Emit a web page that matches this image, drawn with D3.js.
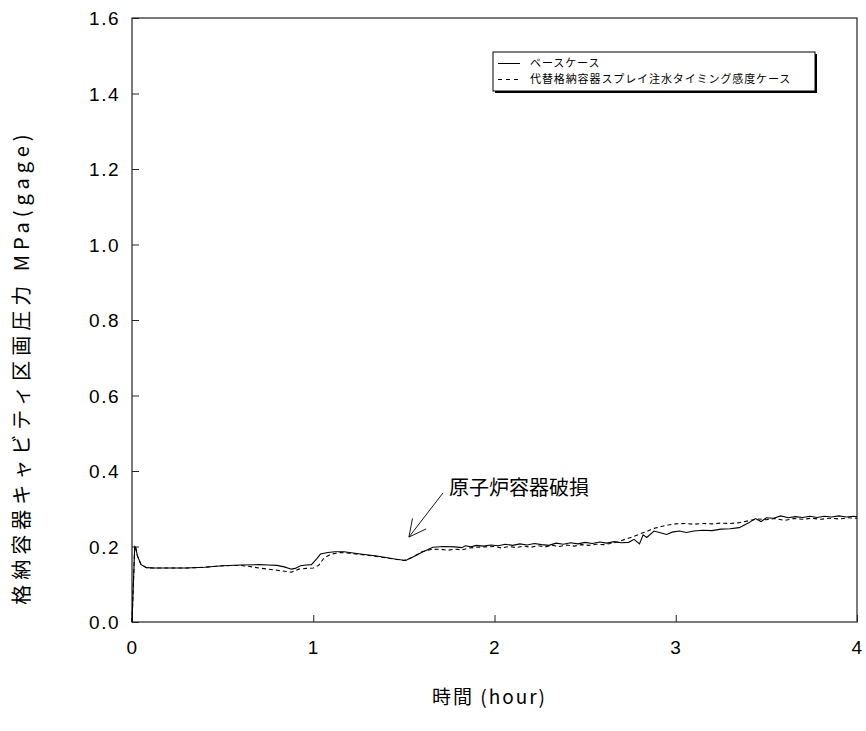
<!DOCTYPE html>
<html>
<head>
<meta charset="utf-8">
<script src="https://cdn.jsdelivr.net/npm/d3@7"></script>
<style>
  body { margin: 0; background: #fff; }
  svg text { font-family: "Liberation Sans", Arial, "Noto Sans CJK JP", sans-serif; fill: #000; }
  .jp { font-family: "Noto Sans CJK JP", "Noto Sans CJK SC", sans-serif; }
</style>
</head>
<body>
<div id="chart"></div>
<script>
// values (time in hour, pressure in MPa gage)
var baseTime = [0, 0.015, 0.02, 0.03, 0.05, 0.08, 0.12, 0.2, 0.3, 0.4, 0.5, 0.6, 0.7, 0.75, 0.8, 0.84,
  0.88, 0.9, 0.93, 0.96, 0.99, 1.02, 1.04, 1.08, 1.12, 1.17, 1.25, 1.35, 1.45, 1.51, 1.55, 1.6,
  1.66, 1.72, 1.78, 1.82, 1.84, 1.87, 1.9, 1.94, 1.98, 2.02, 2.06, 2.1, 2.14, 2.18, 2.22, 2.26,
  2.3, 2.34, 2.38, 2.42, 2.46, 2.5, 2.54, 2.58, 2.62, 2.66, 2.7, 2.74, 2.77, 2.8, 2.82, 2.84,
  2.88, 2.92, 2.95, 2.98, 3.02, 3.06, 3.1, 3.15, 3.2, 3.25, 3.3, 3.35, 3.4, 3.44, 3.47, 3.5,
  3.54, 3.58, 3.62, 3.66, 3.7, 3.74, 3.78, 3.82, 3.86, 3.9, 3.94, 3.98, 4.0];
var baseValue = [0, 0.2, 0.198, 0.175, 0.152, 0.144, 0.143, 0.143, 0.143, 0.145, 0.149, 0.151, 0.152, 0.151, 0.150, 0.146,
  0.140, 0.142, 0.149, 0.151, 0.152, 0.168, 0.180, 0.184, 0.186, 0.186, 0.181, 0.175, 0.167, 0.163, 0.172, 0.185,
  0.198, 0.200, 0.199, 0.197, 0.202, 0.199, 0.203, 0.201, 0.204, 0.202, 0.206, 0.203, 0.207, 0.204, 0.208, 0.205,
  0.203, 0.209, 0.206, 0.210, 0.207, 0.211, 0.208, 0.212, 0.209, 0.213, 0.210, 0.211, 0.219, 0.207, 0.231, 0.224,
  0.241, 0.236, 0.232, 0.238, 0.241, 0.237, 0.241, 0.243, 0.242, 0.246, 0.247, 0.250, 0.262, 0.274, 0.266, 0.276,
  0.275, 0.281, 0.276, 0.279, 0.277, 0.280, 0.277, 0.280, 0.278, 0.281, 0.278, 0.280, 0.279];

var sensTime = [0, 0.015, 0.02, 0.03, 0.05, 0.08, 0.12, 0.2, 0.3, 0.4, 0.5, 0.6, 0.65, 0.7, 0.8, 0.88,
  0.92, 0.96, 1.0, 1.03, 1.06, 1.1, 1.15, 1.2, 1.3, 1.4, 1.5, 1.55, 1.6, 1.65, 1.7, 1.74,
  1.78, 1.82, 1.86, 1.9, 1.95, 2.0, 2.04, 2.08, 2.12, 2.16, 2.2, 2.24, 2.28, 2.32, 2.36, 2.4,
  2.44, 2.48, 2.52, 2.56, 2.6, 2.64, 2.68, 2.72, 2.76, 2.8, 2.84, 2.88, 2.92, 2.96, 3.0, 3.05,
  3.1, 3.15, 3.2, 3.25, 3.3, 3.35, 3.4, 3.45, 3.5, 3.55, 3.6, 3.65, 3.7, 3.75, 3.8, 3.85,
  3.9, 3.95, 4.0];
var sensValue = [0, 0.2, 0.198, 0.175, 0.152, 0.144, 0.143, 0.143, 0.143, 0.145, 0.149, 0.150, 0.147, 0.143, 0.137, 0.132,
  0.140, 0.142, 0.143, 0.150, 0.170, 0.180, 0.184, 0.182, 0.177, 0.170, 0.163, 0.172, 0.186, 0.192, 0.193, 0.190,
  0.193, 0.191, 0.196, 0.198, 0.199, 0.200, 0.196, 0.200, 0.197, 0.201, 0.198, 0.202, 0.199, 0.203, 0.200, 0.204,
  0.201, 0.205, 0.203, 0.206, 0.205, 0.208, 0.212, 0.219, 0.225, 0.233, 0.240, 0.248, 0.253, 0.257, 0.260, 0.261,
  0.259, 0.261, 0.260, 0.262, 0.261, 0.263, 0.268, 0.273, 0.271, 0.274, 0.269, 0.274, 0.272, 0.275, 0.272, 0.275,
  0.273, 0.276, 0.275];

var seriesNames = ["ベースケース", "代替格納容器スプレイ注水タイミング感度ケース"];
var xTicks = [0, 1, 2, 3, 4];
var yTicks = [0, 0.2, 0.4, 0.6, 0.8, 1.0, 1.2, 1.4, 1.6];
var xTitle = "時間 (hour)";
var yTitle = "格納容器キャビティ区画圧力 MPa(gage)";
var noteText = "原子炉容器破損";
var noteFrom = [1.716, 0.342];   // arrow tail (hour, MPa)
var noteTo = [1.528, 0.225];     // arrow tip

var W = 866, H = 731;
var margin = { left: 132, top: 18, right: 9, bottom: 109 };
var w = W - margin.left - margin.right, h = H - margin.top - margin.bottom;

var svg = d3.select("#chart").append("svg")
  .attr("width", W).attr("height", H);
var g = svg.append("g")
  .attr("transform", "translate(" + margin.left + "," + margin.top + ")");

var x = d3.scaleLinear().domain([0, 4]).range([0, w]);
var y = d3.scaleLinear().domain([0, 1.6]).range([h, 0]);

// frame
g.append("rect").attr("width", w).attr("height", h)
  .attr("fill", "none").attr("stroke", "#222").attr("stroke-width", 1.2);

// axes with inward ticks
var xAxis = g.append("g").attr("transform", "translate(0," + h + ")")
  .call(d3.axisBottom(x).tickValues(xTicks).tickSizeInner(-7).tickSizeOuter(0).tickPadding(14)
    .tickFormat(d3.format("d")));
var yAxis = g.append("g")
  .call(d3.axisLeft(y).tickValues(yTicks).tickSizeInner(-7).tickSizeOuter(0).tickPadding(12)
    .tickFormat(d3.format(".1f")));
[xAxis, yAxis].forEach(function (a) {
  a.select(".domain").remove();
  a.selectAll(".tick line").attr("stroke", "#222");
  a.selectAll(".tick text")
    .attr("font-family", "'Liberation Sans', Arial, sans-serif")
    .attr("font-size", 19).attr("letter-spacing", "1.5px").attr("fill", "#000");
});
xAxis.selectAll(".tick text").attr("dy", "0.95em");
yAxis.selectAll(".tick text").attr("dy", "0.36em");

// curves
var line = d3.line().x(function (d) { return x(d[0]); }).y(function (d) { return y(d[1]); });
var baseData = baseTime.map(function (t, i) { return [t, baseValue[i]]; });
var sensData = sensTime.map(function (t, i) { return [t, sensValue[i]]; });

g.append("path").datum(sensData).attr("d", line)
  .attr("fill", "none").attr("stroke", "#000").attr("stroke-width", 1.1)
  .attr("stroke-dasharray", "4,3");
g.append("path").datum(baseData).attr("d", line)
  .attr("fill", "none").attr("stroke", "#000").attr("stroke-width", 1.1);

// legend
var lg = svg.append("g").attr("transform", "translate(493,52)");
lg.append("rect").attr("x", 2).attr("y", 2).attr("width", 322).attr("height", 39).attr("fill", "#000");
lg.append("rect").attr("width", 322).attr("height", 39).attr("fill", "#fff")
  .attr("stroke", "#000").attr("stroke-width", 1);
seriesNames.forEach(function (name, i) {
  var yy = 11.5 + i * 16;
  lg.append("line").attr("x1", 5).attr("x2", 27).attr("y1", yy).attr("y2", yy)
    .attr("stroke", "#000").attr("stroke-width", 1)
    .attr("stroke-dasharray", i === 1 ? "4,4" : null);
  lg.append("text").attr("class", "jp").attr("x", 37).attr("y", yy).attr("dy", "0.36em")
    .attr("font-size", 11).attr("letter-spacing", "0.9px").text(name);
});

// annotation arrow
var tx = x(noteFrom[0]), ty = y(noteFrom[1]), hx = x(noteTo[0]), hy = y(noteTo[1]);
var ang = Math.atan2(ty - hy, tx - hx), arm = 19, spread = 0.47;
g.append("path")
  .attr("d", "M" + tx + "," + ty + "L" + hx + "," + hy +
    "M" + (hx + arm * Math.cos(ang - spread)) + "," + (hy + arm * Math.sin(ang - spread)) +
    "L" + hx + "," + hy +
    "L" + (hx + arm * Math.cos(ang + spread)) + "," + (hy + arm * Math.sin(ang + spread)))
  .attr("fill", "none").attr("stroke", "#000").attr("stroke-width", 0.9);
g.append("text").attr("class", "jp")
  .attr("x", tx + 6).attr("y", ty - 5).attr("dy", "0.36em")
  .attr("font-size", 20).text(noteText);

// axis titles
svg.append("text").attr("class", "jp")
  .attr("x", margin.left + w / 2 - 5).attr("y", 697).attr("dy", "0.36em")
  .attr("text-anchor", "middle").attr("font-size", 19).attr("letter-spacing", "2px")
  .text(xTitle);
svg.append("text").attr("class", "jp")
  .attr("transform", "translate(22,367) rotate(-90)").attr("dy", "0.36em")
  .attr("text-anchor", "middle").attr("font-size", 20).attr("letter-spacing", "5px")
  .text(yTitle);
</script>
</body>
</html>
